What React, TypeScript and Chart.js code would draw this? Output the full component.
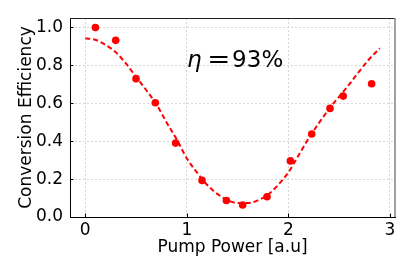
import React, { useEffect, useRef } from "react";
import { Chart, registerables } from "chart.js";

Chart.register(...registerables);

const measuredX = [0.1, 0.3, 0.5, 0.69, 0.89, 1.15, 1.39, 1.55, 1.79, 2.02, 2.23, 2.41, 2.54, 2.82];
const measuredY = [1.0, 0.932, 0.73, 0.603, 0.39, 0.193, 0.087, 0.063, 0.107, 0.296, 0.438, 0.573, 0.638, 0.703];

const fitX = [0.0, 0.1, 0.2, 0.3, 0.4, 0.5, 0.6, 0.7, 0.8, 0.9, 1.0, 1.1, 1.2, 1.3, 1.4, 1.5, 1.6, 1.7, 1.8, 1.9, 2.0, 2.1, 2.2, 2.3, 2.4, 2.5, 2.6, 2.7, 2.8, 2.9];
const fitY = [0.943, 0.935, 0.908, 0.87, 0.81, 0.74, 0.67, 0.595, 0.5, 0.41, 0.31, 0.235, 0.17, 0.122, 0.09, 0.074, 0.074, 0.088, 0.118, 0.17, 0.235, 0.325, 0.415, 0.495, 0.57, 0.635, 0.7, 0.77, 0.835, 0.89];

const xTicks = [0, 1, 2, 3];
const yTicks = [0, 0.2, 0.4, 0.6, 0.8, 1.0];

const xLabel = "Pump Power [a.u]";
const yLabel = "Conversion Efficiency";
const annotationSymbol = "η";
const annotationRest = "93%";
const annotationPos = { x: 1.013, y: 0.794 };

const FONT = "'DejaVu Sans', sans-serif";

const framePlugin = {
  id: "frame",
  afterDraw(chart: any) {
    const { ctx, chartArea } = chart;
    const xs = chart.scales.x;
    const ys = chart.scales.y;
    ctx.save();
    // inward ticks
    ctx.strokeStyle = "#000";
    ctx.lineWidth = 1;
    ctx.beginPath();
    xTicks.forEach((v) => {
      const px = Math.round(xs.getPixelForValue(v)) + 0.5;
      ctx.moveTo(px, chartArea.bottom);
      ctx.lineTo(px, chartArea.bottom - 3.5);
    });
    yTicks.forEach((v) => {
      const py = Math.round(ys.getPixelForValue(v)) + 0.5;
      ctx.moveTo(chartArea.left, py);
      ctx.lineTo(chartArea.left + 3.5, py);
    });
    ctx.stroke();
    // top spine
    ctx.strokeStyle = "#222";
    ctx.beginPath();
    ctx.moveTo(chartArea.left, chartArea.top + 0.5);
    ctx.lineTo(chartArea.right, chartArea.top + 0.5);
    ctx.stroke();
    // right spine
    ctx.strokeStyle = "#8a8a8a";
    ctx.lineWidth = 1.6;
    ctx.beginPath();
    ctx.moveTo(chartArea.right, chartArea.top);
    ctx.lineTo(chartArea.right, chartArea.bottom);
    ctx.stroke();

    // annotation (placed by ink edges)
    const ax = xs.getPixelForValue(annotationPos.x);
    const ay = ys.getPixelForValue(annotationPos.y);
    ctx.fillStyle = "#000";
    ctx.textBaseline = "alphabetic";
    ctx.textAlign = "left";
    ctx.font = `italic 23px ${FONT}`;
    const m1 = ctx.measureText(annotationSymbol);
    ctx.fillText(annotationSymbol, ax + m1.actualBoundingBoxLeft, ay);
    ctx.font = `23px ${FONT}`;
    const m2 = ctx.measureText("=");
    const eqInk = m2.actualBoundingBoxLeft + m2.actualBoundingBoxRight;
    const sx = 18 / eqInk;
    ctx.save();
    ctx.translate(ax + 21.5, ay);
    ctx.scale(sx, 1);
    ctx.fillText("=", m2.actualBoundingBoxLeft, 0);
    ctx.restore();
    const m3 = ctx.measureText(annotationRest);
    ctx.fillText(annotationRest, ax + 45 + m3.actualBoundingBoxLeft, ay);
    ctx.restore();
  },
};

export default function App() {
  const ref = useRef<HTMLCanvasElement>(null);

  useEffect(() => {
    if (!ref.current) return;
    const chart = new Chart(ref.current, {
      type: "scatter",
      data: {
        datasets: [
          {
            label: "data",
            data: measuredX.map((x, i) => ({ x, y: measuredY[i] })),
            backgroundColor: "#ff0000",
            borderColor: "#ff0000",
            borderWidth: 0,
            pointRadius: 3.8,
            showLine: false,
          },
          {
            label: "fit",
            data: fitX.map((x, i) => ({ x, y: fitY[i] })),
            borderColor: "#ff0000",
            backgroundColor: "#ff0000",
            borderWidth: 2,
            borderDash: [5, 3],
            pointRadius: 0,
            showLine: true,
            tension: 0.4,
            cubicInterpolationMode: "monotone",
          },
        ],
      },
      options: {
        animation: false,
        responsive: false,
        devicePixelRatio: 1,
        layout: { padding: { top: 18, right: 20, left: 0, bottom: 0 } },
        plugins: { legend: { display: false }, tooltip: { enabled: false } },
        scales: {
          x: {
            type: "linear",
            min: -0.15,
            max: 3.05,
            afterBuildTicks: (scale: any) => {
              scale.ticks = xTicks.map((v) => ({ value: v }));
            },
            afterFit: (scale: any) => {
              scale.height = 60;
            },
            grid: { color: "#d6d6d6", lineWidth: 1, drawTicks: false },
            border: { color: "#000", width: 1, dash: [2, 2] },
            ticks: {
              color: "#000",
              font: { family: FONT, size: 17 },
              padding: 3,
              maxRotation: 0,
              callback: (v: any) => String(v),
            },
            title: {
              display: true,
              text: xLabel,
              color: "#000",
              font: { family: FONT, size: 17 },
              padding: { top: 0, bottom: 19.5 },
            },
          },
          y: {
            type: "linear",
            min: 0,
            max: 1.05,
            afterBuildTicks: (scale: any) => {
              scale.ticks = yTicks.map((v) => ({ value: v }));
            },
            afterFit: (scale: any) => {
              scale.width = 70;
            },
            grid: { color: "#d6d6d6", lineWidth: 1, drawTicks: false },
            border: { color: "#000", width: 1, dash: [2, 2] },
            ticks: {
              color: "#000",
              font: { family: FONT, size: 17 },
              padding: 7,
              callback: (v: any) => Number(v).toFixed(1),
            },
            title: {
              display: true,
              text: yLabel,
              color: "#000",
              font: { family: FONT, size: 17 },
              padding: { top: 16.5, bottom: 0 },
            },
          },
        },
      },
      plugins: [framePlugin],
    } as any);
    return () => chart.destroy();
  }, []);

  return (
    <div style={{ position: "absolute", left: 0, top: 0, width: 415, height: 277, background: "#fff" }}>
      <canvas ref={ref} width={415} height={277} style={{ display: "block", width: 415, height: 277 }} />
    </div>
  );
}
